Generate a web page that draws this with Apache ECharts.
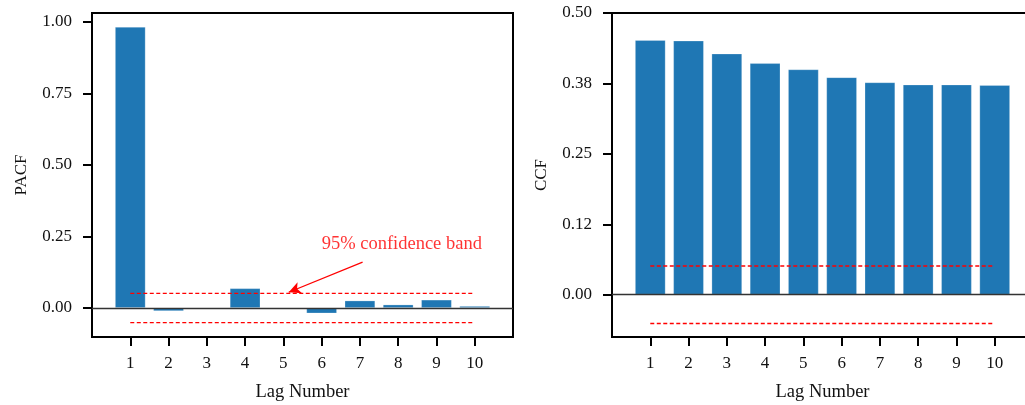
<!DOCTYPE html>
<html>
<head>
<meta charset="utf-8">
<script src="https://cdn.jsdelivr.net/npm/echarts@6/dist/echarts.min.js"></script>
<style>
  html, body { margin: 0; padding: 0; background: #fff; }
  #chart { width: 1025px; height: 405px; }
</style>
</head>
<body>
<div id="chart"></div>
<script>
// lag numbers shared by both panels
const lags = [1, 2, 3, 4, 5, 6, 7, 8, 9, 10];
// partial autocorrelation (left)
const pacfValues = [0.983, -0.011, 0.001, 0.069, -0.005, -0.019, 0.026, 0.012, 0.029, 0.007];
// cross correlation (right)
const ccfValues = [0.452, 0.451, 0.428, 0.411, 0.400, 0.386, 0.377, 0.373, 0.373, 0.372];
// 95% confidence band
const confLevel = 0.051;
// y tick values / labels
const pacfTicks = [0, 0.25, 0.5, 0.75, 1.0];
const pacfTickLabels = ['0.00', '0.25', '0.50', '0.75', '1.00'];
const ccfTicks = [0, 0.125, 0.25, 0.375, 0.5];
const ccfTickLabels = ['0.00', '0.12', '0.25', '0.38', '0.50'];
// annotation (data coords)
const noteText = '95% confidence band';
const notePos = [6.0, 0.222];
const arrowFrom = [7.07, 0.16];
const arrowTo = [5.14, 0.055];

const serif = '"Liberation Serif", "Times New Roman", serif';
const barColor = '#1f77b4';
const redColor = '#ff0000';

function xAxisFor(gridIndex) {
    return {
        type: 'value',
        gridIndex: gridIndex,
        min: 0,
        max: 11,
        name: 'Lag Number',
        nameLocation: 'middle',
        nameGap: 46,
        nameTextStyle: { fontFamily: serif, fontSize: 18.5, color: '#111' },
        axisLine: { show: true, onZero: false, lineStyle: { color: '#000', width: 2 } },
        axisTick: { show: true, length: 9, lineStyle: { color: '#000', width: 2 }, customValues: lags },
        axisLabel: { fontFamily: serif, fontSize: 17, color: '#111', margin: 18, customValues: lags },
        splitLine: { show: false }
    };
}

function yAxisFor(gridIndex, name, min, max, ticks, labels) {
    return {
        type: 'value',
        gridIndex: gridIndex,
        min: min,
        max: max,
        name: name,
        nameLocation: 'middle',
        nameGap: 62,
        nameTextStyle: { fontFamily: serif, fontSize: 17, color: '#111' },
        axisLine: { show: true, onZero: false, lineStyle: { color: '#000', width: 2 } },
        axisTick: { show: true, length: 9, lineStyle: { color: '#000', width: 2 }, customValues: ticks },
        axisLabel: {
            fontFamily: serif, fontSize: 17, color: '#111', margin: 20,
            customValues: ticks,
            formatter: function (v) {
                let k = 0;
                ticks.forEach((t, i) => { if (Math.abs(t - v) < Math.abs(ticks[k] - v)) k = i; });
                return labels[k];
            }
        },
        splitLine: { show: false }
    };
}

function barSeries(idx, values) {
    return {
        type: 'bar',
        xAxisIndex: idx,
        yAxisIndex: idx,
        barWidth: '80%',
        itemStyle: { color: barColor, borderColor: 'rgba(255,255,255,0.3)', borderWidth: 0.8 },
        data: lags.map((l, i) => [l, values[i]]),
        markLine: {
            silent: true,
            symbol: 'none',
            label: { show: false },
            lineStyle: { color: '#333', width: 1.3, type: 'solid' },
            data: [{ yAxis: 0 }]
        },
        z: 2
    };
}

function bandSeries(idx, level) {
    return {
        type: 'line',
        xAxisIndex: idx,
        yAxisIndex: idx,
        symbol: 'none',
        silent: true,
        lineStyle: { color: redColor, width: 1.3, type: [4, 2.5] },
        data: [[lags[0], level], [lags[lags.length - 1], level]],
        z: 3
    };
}

const option = {
    backgroundColor: '#fff',
    animation: false,
    grid: [
        { left: 92, top: 13, width: 421, height: 324, outerBoundsMode: 'none', containLabel: false, show: true, borderColor: '#000', borderWidth: 2, backgroundColor: 'transparent' },
        { left: 612, top: 13, width: 421, height: 324, outerBoundsMode: 'none', containLabel: false, show: true, borderColor: '#000', borderWidth: 2, backgroundColor: 'transparent' }
    ],
    xAxis: [xAxisFor(0), xAxisFor(1)],
    yAxis: [
        yAxisFor(0, 'PACF', -0.1015, 1.0315, pacfTicks, pacfTickLabels),
        yAxisFor(1, 'CCF', -0.075, 0.5, ccfTicks, ccfTickLabels)
    ],
    series: [
        barSeries(0, pacfValues),
        bandSeries(0, confLevel),
        bandSeries(0, -confLevel),
        {
            type: 'scatter',
            xAxisIndex: 0,
            yAxisIndex: 0,
            symbolSize: 0,
            silent: true,
            data: [notePos],
            label: {
                show: true,
                position: [0, 0],
                align: 'left',
                verticalAlign: 'middle',
                formatter: noteText,
                fontFamily: serif,
                fontSize: 18.5,
                color: redColor
            },
            markLine: {
                silent: true,
                symbol: ['none', 'arrow'],
                symbolSize: [9, 12],
                label: { show: false },
                lineStyle: { color: redColor, width: 1.3, type: 'solid' },
                data: [[{ coord: arrowFrom }, { coord: arrowTo }]]
            },
            z: 4
        },
        barSeries(1, ccfValues),
        bandSeries(1, confLevel),
        bandSeries(1, -confLevel)
    ]
};

const chart = echarts.init(document.getElementById('chart'), null, { renderer: 'canvas' });
chart.setOption(option);
</script>
</body>
</html>
